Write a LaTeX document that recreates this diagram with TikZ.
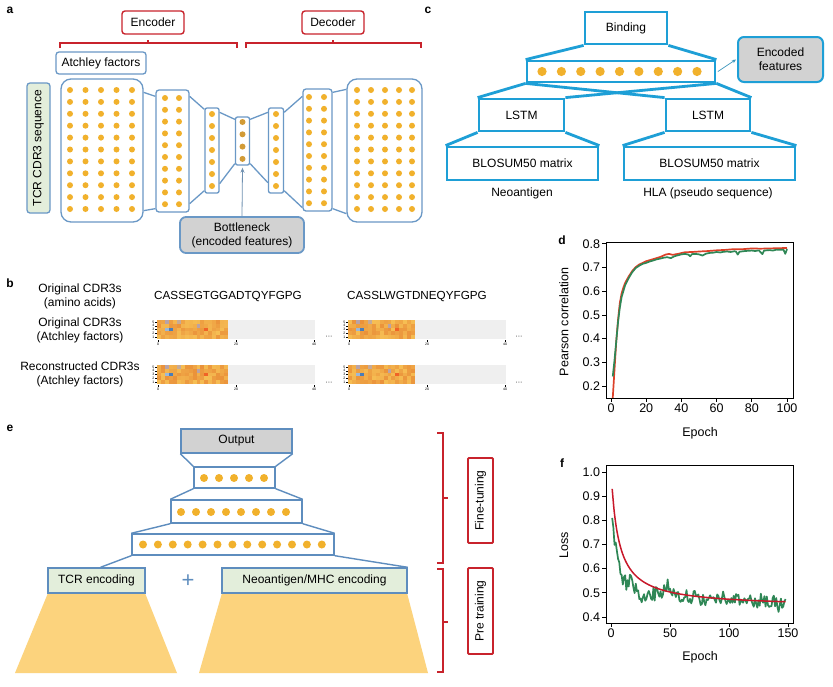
\documentclass[tikz,border=0pt]{standalone}
\usepackage{fontspec}
\setmainfont{Liberation Sans}
\usetikzlibrary{arrows.meta,calc}
\definecolor{aBlue}{HTML}{6A98C6}
\definecolor{dotGold}{HTML}{F1B12C}
\definecolor{dotDark}{HTML}{D29B36}
\definecolor{redB}{HTML}{C8232C}
\definecolor{cCyan}{HTML}{1E9FD6}
\definecolor{grayF}{HTML}{D2D2D2}
\definecolor{greenF}{HTML}{E3EEDB}
\definecolor{yelF}{HTML}{FCD37D}
\definecolor{eBlue}{HTML}{5E8DBE}
\definecolor{pRed}{HTML}{DC4028}
\definecolor{pRedF}{HTML}{C8182A}
\definecolor{pGreen}{HTML}{2F8756}
\definecolor{hmA}{HTML}{F8C658}
\definecolor{hmB}{HTML}{E98E38}
\definecolor{hmgray}{HTML}{EFEFEF}
\definecolor{hmblue}{HTML}{4A7DB8}
\definecolor{hmpurp}{HTML}{B8A3A8}
\tikzset{
 txt/.style={font=\fontsize{12}{14}\selectfont, align=center},
 abox/.style={draw=aBlue, line width=1.3pt, rounded corners=3pt, inner sep=0pt},
 aline/.style={draw=aBlue, line width=1.3pt},
 redbox/.style={draw=redB, line width=1.4pt, rounded corners=3pt, inner sep=0pt, txt},
 cbox/.style={draw=cCyan, line width=2.8pt, inner sep=0pt, txt},
 cline/.style={draw=cCyan, line width=2.8pt},
 ebox/.style={draw=eBlue, line width=1.4pt, inner sep=0pt, txt},
 eline/.style={draw=eBlue, line width=1.4pt},
 panel/.style={font=\fontsize{12}{14}\selectfont\bfseries, inner sep=0pt},
 tick/.style={font=\fontsize{12.5}{14}\selectfont, inner sep=1.5pt},
 axisl/.style={line width=0.9pt},
 tinyl/.style={font=\fontsize{3.5}{4}\selectfont, inner sep=0.5pt},
}
\newcommand{\hmapdraw}[5]{%
 \fill[hmgray] (#1+#3*3.95,#2) rectangle (#1+158,#2+19);
 \pgfmathsetseed{#4}
 \foreach \c in {1,...,#3}{
   \foreach \r in {1,...,5}{
     \pgfmathtruncatemacro{\p}{15+80*rnd}
     \fill[hmB!\p!hmA] (#1+\c*3.95-3.95,#2+\r*3.8-3.8) rectangle ++(3.95,3.8);
   }
 }
 \fill[hmblue] (#1+3*3.95,#2+2*3.8) rectangle ++(3.95,3.8);
 \fill[hmblue!55!white] (#1+2*3.95,#2+2*3.8) rectangle ++(3.95,3.8);
 \fill[hmpurp] (#1+2*3.95,#2) rectangle ++(3.95,3.8);
 \fill[hmpurp] (#1+10*3.95,#2+3.8) rectangle ++(3.95,3.8);
 \fill[hmpurp!80!hmA] (#1+5*3.95,#2) rectangle ++(3.95,3.8);
 \fill[hmB!70!red] (#1+12*3.95,#2+2*3.8) rectangle ++(3.95,3.8);
 \foreach \t in {0,20,40}{
   \draw[line width=0.3pt] (#1+\t*3.9+1,#2+20) -- ++(0,-2pt) node[below, tinyl] (#5x\t) {\t};
 }
 \foreach \r in {1,...,5}{
   \draw[line width=0.3pt] (#1-0.5,#2+19-\r*3.8+1.9) -- ++(-1.5pt,0) node[left, tinyl] (#5y\r) {\r};
 }
}
\begin{document}
\begin{tikzpicture}[x=1pt,y=-1pt]
\useasboundingbox (0,0) rectangle (833,686);
\fill[white] (0,0) rectangle (833,686);

%%%%%%%%%%%%%%%% panel a
\node[panel] (la) at (10,10) {a};
\node[redbox, minimum width=62pt, minimum height=23pt] (enc) at (153,22.5) {Encoder};
\node[redbox, minimum width=62pt, minimum height=23pt] (dec) at (333,22.5) {Decoder};
\draw[redB, line width=1.2pt] (60,48) -- (60,43) -- (237,43) -- (237,48) (148,43) -- (148,39.5);
\draw[redB, line width=1.2pt] (246,48) -- (246,43) -- (421,43) -- (421,48) (333,43) -- (333,39.5);
\node[abox, minimum width=90pt, minimum height=22pt, txt] (atch) at (101,63) {Atchley factors};
\node[abox, fill=greenF, rotate=90, minimum width=130pt, minimum height=23pt, txt] (tcrseq) at (38.5,148) {TCR CDR3 sequence};

\node[abox, rounded corners=10pt, minimum width=82pt, minimum height=143pt] (b1) at (102,150.5) {};
\node[abox, minimum width=33pt, minimum height=122pt] (b2) at (172.5,151) {};
\node[abox, rounded corners=2pt, minimum width=14pt, minimum height=85pt] (b3) at (212,150.5) {};
\node[abox, rounded corners=2pt, minimum width=14pt, minimum height=48pt] (b4) at (242.5,141) {};
\node[abox, rounded corners=2pt, minimum width=15pt, minimum height=85pt] (b5) at (276,150.5) {};
\node[abox, minimum width=29pt, minimum height=122pt] (b6) at (317.5,150) {};
\node[abox, rounded corners=10pt, minimum width=75pt, minimum height=143pt] (b7) at (384.5,150.5) {};

\draw[aline] ([yshift=-14pt]b1.north east) -- ([yshift=-7pt]b2.north west);
\draw[aline] ([yshift=12pt]b1.south east) -- ([yshift=4pt]b2.south west);
\draw[aline] ([yshift=-7pt]b2.north east) -- ([yshift=-2pt]b3.north west);
\draw[aline] ([yshift=9pt]b2.south east) -- ([yshift=3pt]b3.south west);
\draw[aline] ([yshift=-5pt]b3.north east) -- ([yshift=-3pt]b4.north west);
\draw[aline] ([yshift=10pt]b3.south east) -- ([yshift=2pt]b4.south west);
\draw[aline] ([yshift=-3pt]b4.north east) -- ([yshift=-5pt]b5.north west);
\draw[aline] ([yshift=2pt]b4.south east) -- ([yshift=11pt]b5.south west);
\draw[aline] ([yshift=-5pt]b5.north east) -- ([yshift=-8pt]b6.north west);
\draw[aline] ([yshift=3pt]b5.south east) -- ([yshift=4pt]b6.south west);
\draw[aline] ([yshift=-4pt]b6.north east) -- ([yshift=-11pt]b7.north west);
\draw[aline] ([yshift=3pt]b6.south east) -- ([yshift=9pt]b7.south west);

\foreach \xx in {70,85.5,101,116.5,132} \foreach \i in {0,...,10} \fill[dotGold] (\xx,90+\i*11.9) circle (3pt);
\foreach \xx in {165,179} \foreach \i in {0,...,9} \fill[dotGold] (\xx,98+\i*11.8) circle (3pt);
\foreach \i in {0,...,6} \fill[dotGold] (212,114+\i*12) circle (3pt);
\foreach \i in {0,...,3} \fill[dotDark] (242.5,122+\i*12.3) circle (3pt);
\foreach \i in {0,...,6} \fill[dotGold] (276,114+\i*12) circle (3pt);
\foreach \xx in {309,324} \foreach \i in {0,...,9} \fill[dotGold] (\xx,97+\i*11.8) circle (3pt);
\foreach \xx in {357,371,385,399,412} \foreach \i in {0,...,10} \fill[dotGold] (\xx,90+\i*11.9) circle (3pt);

\node[abox, fill=grayF, rounded corners=6pt, line width=1.8pt, minimum width=124pt, minimum height=36pt, txt] (bneck) at (242,235) {Bottleneck\\(encoded features)};
\draw[-{Stealth[length=5pt,width=4pt]}, draw=aBlue!70!gray, line width=0.8pt] (bneck.north) -- ([yshift=-2pt]b4.south);

%%%%%%%%%%%%%%%% panel c
\node[panel] (lc) at (428,10) {c};
\node[cbox, minimum width=82pt, minimum height=32pt] (bind) at (626,28) {Binding};
\node[cbox, minimum width=188pt, minimum height=21pt] (cdots) at (621,71.5) {};
\foreach \i in {0,...,8} \fill[dotGold] (542+\i*19.375,71.5) circle (4.6pt);
\node[cbox, line width=2pt, fill=grayF, rounded corners=6pt, minimum width=85pt, minimum height=45pt] (encf) at (780.5,59.5) {Encoded\\features};
\node[cbox, minimum width=85pt, minimum height=32pt] (lstm1) at (521.5,115) {LSTM};
\node[cbox, minimum width=84pt, minimum height=32pt] (lstm2) at (708,115) {LSTM};
\node[cbox, minimum width=151pt, minimum height=33pt] (blo1) at (522.5,163.5) {BLOSUM50 matrix};
\node[cbox, minimum width=171pt, minimum height=33pt] (blo2) at (709.5,163.5) {BLOSUM50 matrix};
\node[txt] (neo) at (522,193) {Neoantigen};
\node[txt] (hla) at (708,193) {HLA (pseudo sequence)};
\draw[cline] (bind.south west) -- (cdots.north west);
\draw[cline] (bind.south east) -- (cdots.north east);
\draw[cline] (cdots.south west) -- (lstm1.north west);
\draw[cline] (cdots.south east) -- (lstm1.north east);
\draw[cline] (cdots.south west) -- (lstm2.north west);
\draw[cline] (cdots.south east) -- (lstm2.north east);
\draw[cline] (lstm1.south west) -- (blo1.north west);
\draw[cline] (lstm1.south east) -- (blo1.north east);
\draw[cline] (lstm2.south west) -- (blo2.north west);
\draw[cline] (lstm2.south east) -- (blo2.north east);
\draw[-{Stealth[length=4pt,width=3.5pt]}, draw=cCyan!70!gray, line width=0.7pt] ([xshift=1.5pt]cdots.east) -- ([xshift=-1pt]encf.west);

%%%%%%%%%%%%%%%% panel b
\node[panel] (lb) at (10,283) {b};
\node[txt] (r1) at (80,296) {Original CDR3s\\(amino acids)};
\node[txt, font=\fontsize{11.7}{14}\selectfont] (s1) at (228,297) {CASSEGTGGADTQYFGPG};
\node[txt, font=\fontsize{11.7}{14}\selectfont] (s2) at (417,297) {CASSLWGTDNEQYFGPG};
\node[txt] (r2) at (80,330) {Original CDR3s\\(Atchley factors)};
\node[txt] (r3) at (80,374) {Reconstructed CDR3s\\(Atchley factors)};
\hmapdraw{157}{320}{18}{11}{ha}
\hmapdraw{348}{320}{17}{23}{hb}
\hmapdraw{157}{365}{18}{12}{hc}
\hmapdraw{348}{365}{17}{24}{hd}
\node[font=\fontsize{7}{7}\selectfont] (el1) at (329,337) {···};
\node[font=\fontsize{7}{7}\selectfont] (el2) at (519,337) {···};
\node[font=\fontsize{7}{7}\selectfont] (el3) at (329,383) {···};
\node[font=\fontsize{7}{7}\selectfont] (el4) at (519,383) {···};

%%%%%%%%%%%%%%%% panel d
\node[panel] (ld) at (562,240) {d};
\begin{scope}[shift={(611,433.3)}, x=1.76pt, y=236.7pt]
 \draw[pRed, line width=1.7pt, line join=round] plot coordinates {(1,0.15)(2,0.27)(3,0.39)(4,0.48)(5,0.55)(6,0.59)(7,0.615)(8,0.635)(10,0.662)(12,0.685)(14,0.702)(16,0.713)(18,0.72)(20,0.727)(24,0.736)(28,0.745)(31,0.755)(33,0.758)(35,0.754)(38,0.758)(42,0.765)(46,0.766)(50,0.768)(55,0.77)(60,0.773)(65,0.775)(70,0.778)(75,0.778)(80,0.781)(85,0.78)(90,0.781)(95,0.782)(100,0.783)};
 \draw[pGreen, line width=1.7pt, line join=round] plot coordinates {(1,0.24)(2,0.31)(3,0.39)(4,0.47)(5,0.53)(6,0.575)(7,0.6)(8,0.625)(10,0.655)(12,0.68)(14,0.698)(16,0.708)(18,0.716)(20,0.72)(22,0.726)(24,0.73)(26,0.735)(28,0.738)(30,0.742)(32,0.744)(33,0.742)(34,0.74)(36,0.748)(38,0.752)(40,0.756)(42,0.758)(44,0.755)(45,0.748)(46,0.757)(48,0.758)(50,0.756)(52,0.751)(54,0.759)(56,0.762)(58,0.763)(60,0.766)(62,0.764)(64,0.767)(66,0.768)(68,0.766)(70,0.769)(71,0.768)(72,0.755)(73,0.767)(76,0.77)(78,0.771)(80,0.772)(82,0.77)(84,0.773)(85,0.765)(86,0.757)(87,0.772)(90,0.774)(92,0.772)(94,0.776)(96,0.775)(98,0.776)(99,0.758)(100,0.778)};
 \draw[axisl] (-2.84,0.149) rectangle (103.4,0.808);
 \foreach \v [count=\k] in {0.2,0.3,0.4,0.5,0.6,0.7,0.8} \draw[axisl] (-2.84,\v) -- ++(-4pt,0) node[left, tick] (dy\k) {\v};
 \foreach \v in {0,20,40,60,80,100} \draw[axisl] (\v,0.149) -- ++(0,-4pt) node[below, tick] (dx\v) {\v};
\end{scope}
\node[tick] (dxl) at (700,433) {Epoch};
\node[tick, rotate=90] (dyl) at (564,322) {Pearson correlation};

%%%%%%%%%%%%%%%% panel f
\node[panel] (lf) at (562,463) {f};
\begin{scope}[shift={(611,713.67)}, x=1.18pt, y=241.67pt]
 \pgfmathsetseed{42}
 \draw[pGreen, line width=1.7pt, line join=round] plot[domain=1:148, samples=148] (\x, {0.452 + 0.32*exp(max(-9,-(\x-1)/5)) + 0.055*exp(-\x/100) + 0.05/(1+((\x-17)/2)^2) - 0.02/(1+((\x-27)/3)^2) + 0.04/(1+((\x-48)/5)^2) + 0.045/(1+((\x-95)/1.2)^2) - 0.02/(1+((\x-143)/2)^2) + 0.03*rand});
 \draw[pRedF, line width=1.5pt] plot[domain=1:148, samples=90, smooth] (\x, {0.44 + 3.57/(\x+6.28)});
 \draw[axisl] (-4.24,0.375) rectangle (154.2,1.029);
 \foreach \v [count=\k] in {0.4,0.5,0.6,0.7,0.8,0.9,1.0} \draw[axisl] (-4.24,\v) -- ++(-4pt,0) node[left, tick] (fy\k) {\v};
 \foreach \v in {0,50,100,150} \draw[axisl] (\v,0.375) -- ++(0,-4pt) node[below, tick] (fx\v) {\v};
\end{scope}
\node[tick] (fxl) at (700,657) {Epoch};
\node[tick, rotate=90] (fyl) at (564,545) {Loss};

%%%%%%%%%%%%%%%% panel e
\node[panel] (le) at (10,428) {e};
\coordinate (tl1) at (15,673);
\coordinate (tr1) at (177,673);
\coordinate (tl2) at (199,673);
\coordinate (tr2) at (428,673);
\fill[yelF] (48,593) -- (145,593) -- (tr1) -- (tl1) -- cycle;
\fill[yelF] (222,593) -- (407,593) -- (tr2) -- (tl2) -- cycle;
\node[ebox, fill=greenF, minimum width=97pt, minimum height=25pt] (tcr) at (96.5,580.5) {TCR encoding};
\node[ebox, fill=greenF, minimum width=185pt, minimum height=25pt] (neoe) at (314.5,580.5) {Neoantigen/MHC encoding};
\node[ebox, fill=grayF, minimum width=111pt, minimum height=24pt] (outp) at (236.5,441) {Output};
\node[ebox, minimum width=81pt, minimum height=21pt] (e1) at (234.5,477.5) {};
\node[ebox, minimum width=131pt, minimum height=23pt] (e2) at (236.5,511.5) {};
\node[ebox, minimum width=202pt, minimum height=21pt] (e3) at (233,544.5) {};
\foreach \i in {0,...,4} \fill[dotGold] (204+\i*15,478) circle (4pt);
\foreach \i in {0,...,7} \fill[dotGold] (181+\i*15,512) circle (4pt);
\foreach \i in {0,...,12} \fill[dotGold] (143+\i*14.9,544.5) circle (4pt);
\draw[eline] (outp.south west) -- (e1.north west);
\draw[eline] (outp.south east) -- (e1.north east);
\draw[eline] (e1.south west) -- (e2.north west);
\draw[eline] (e1.south east) -- (e2.north east);
\draw[eline] (e2.south west) -- (e3.north west);
\draw[eline] (e2.south east) -- (e3.north east);
\draw[eline] (e3.south west) -- ([xshift=4pt]tcr.north);
\draw[eline] (e3.south east) -- (neoe.north east);
\node[text=eBlue, font=\fontsize{22}{22}\selectfont] (plus) at (188,581) {+};
\draw[redB, line width=1.2pt] (437,433) -- (443,433) -- (443,563) -- (437,563) (443,498) -- (448,498);
\draw[redB, line width=1.2pt] (437,569) -- (443,569) -- (443,672) -- (437,672) (443,622) -- (448,622);
\node[redbox, line width=1.8pt, rounded corners=1pt, rotate=90, minimum width=85pt, minimum height=25pt] (ft) at (480.5,500.5) {Fine-tuning};
\node[redbox, line width=1.8pt, rounded corners=1pt, rotate=90, minimum width=86pt, minimum height=25pt] (pt) at (480.5,611) {Pre training};
\end{tikzpicture}
\end{document}
